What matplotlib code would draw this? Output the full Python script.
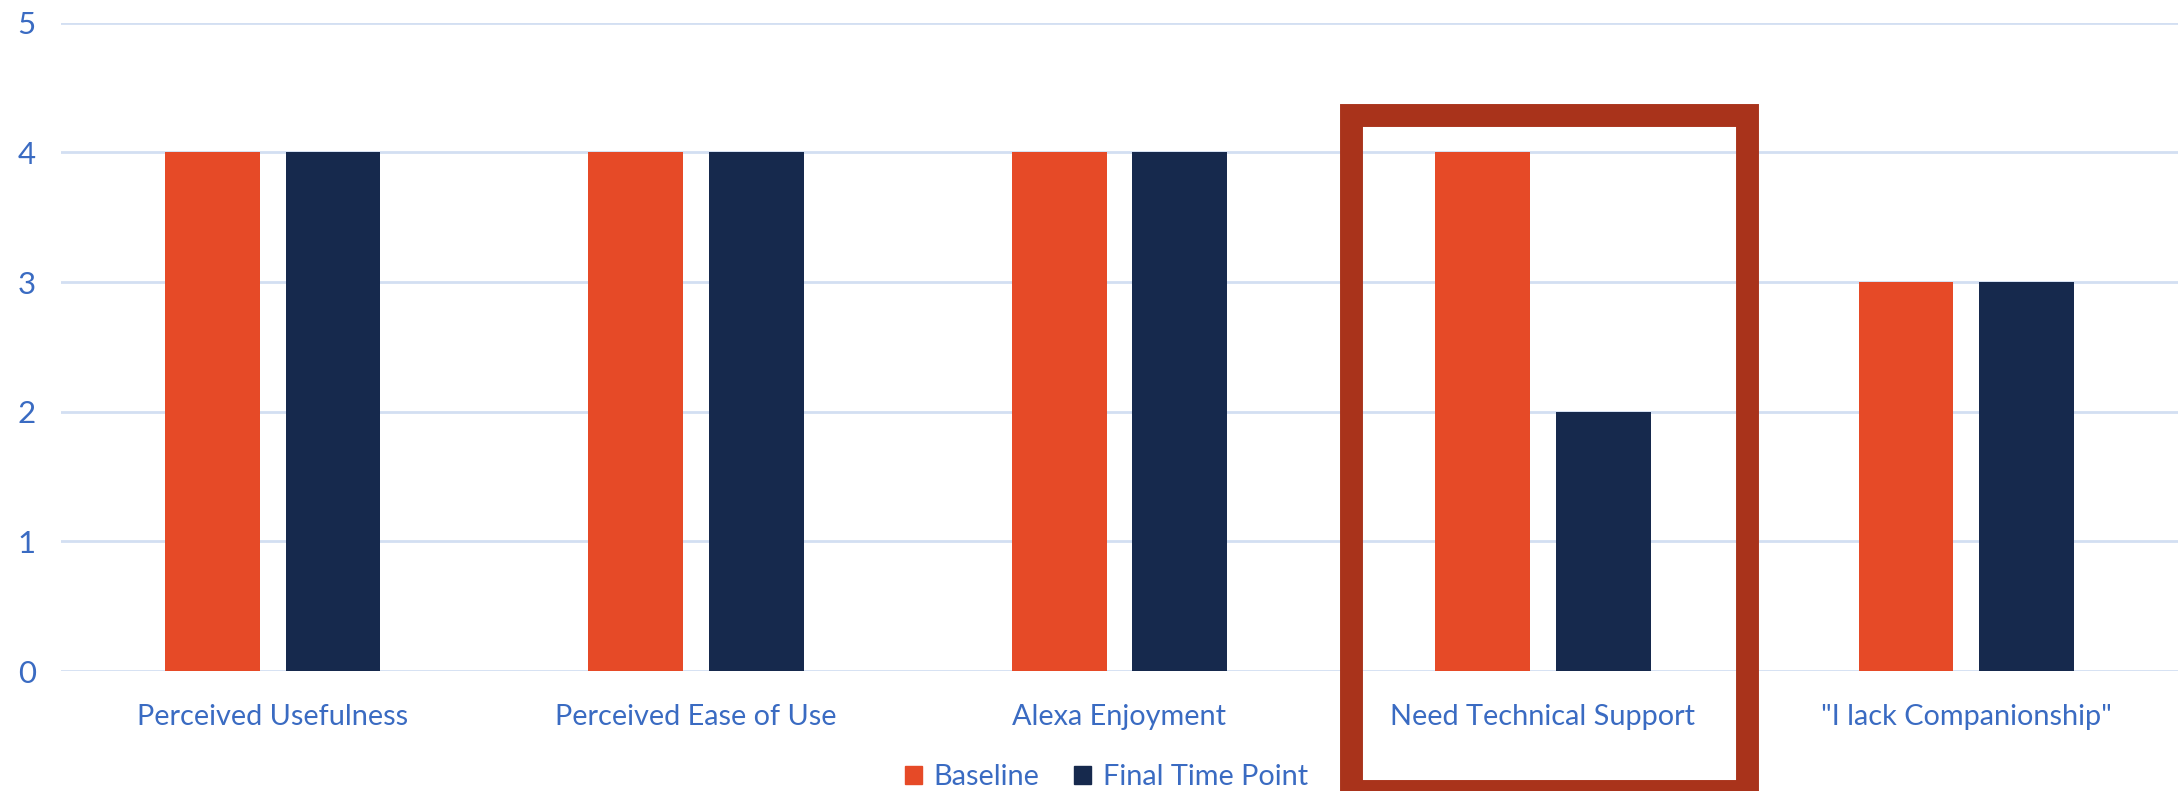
import matplotlib
matplotlib.use("Agg")
import matplotlib.pyplot as plt
import matplotlib.patches as patches
import numpy as np

categories = ["Perceived Usefulness", "Perceived Ease of Use", "Alexa Enjoyment",
              "Need Technical Support", "\"I lack Companionship\""]
baseline = [4, 4, 4, 4, 3]
final_time_point = [4, 4, 4, 2, 3]
y_ticks = [0, 1, 2, 3, 4, 5]

text_blue = "#3a6bc2"
orange = "#e64a27"
navy = "#16294d"
grid_blue = "#d3dff2"

plt.rcParams["font.family"] = ["Lato", "DejaVu Sans"]

fig = plt.figure(figsize=(21.78, 7.91), dpi=100)
ax = fig.add_axes([0.028, 0.1517, 0.972, 0.8196])

x = np.arange(len(categories))
w = 0.224
ax.bar(x - 0.1425, baseline, w, color=orange, zorder=2)
ax.bar(x + 0.1425, final_time_point, w, color=navy, zorder=2)
handles = [patches.Patch(color=orange), patches.Patch(color=navy)]

ax.set_xlim(-0.5, len(categories) - 0.5)
ax.set_ylim(0, 5)
ax.set_yticks(y_ticks)
ax.set_xticks(x)
ax.set_xticklabels(categories)
for s in ax.spines.values():
    s.set_visible(False)
ax.grid(axis="y", color=grid_blue, linewidth=2)
ax.set_axisbelow(True)
ax.tick_params(axis="both", length=0, labelcolor=text_blue)
ax.tick_params(axis="x", labelsize=20.8, pad=24)
ax.tick_params(axis="y", labelsize=22.5, pad=18)

fig.legend(handles, ["Baseline", "Final Time Point"], loc="center",
           bbox_to_anchor=(0.508, 0.0177), ncol=2, frameon=False,
           fontsize=20.8, labelcolor=text_blue, handlelength=0.6, handleheight=0.6,
           handletextpad=0.4, columnspacing=1.2, borderpad=0)

# highlight box around "Need Technical Support"
box = patches.Rectangle((0.6205, -0.0006), 0.8021 - 0.6205, 0.8546 + 0.0006,
                        transform=fig.transFigure, fill=False,
                        edgecolor="#a9331b", linewidth=16.5, joinstyle="miter",
                        clip_on=False, zorder=5)
fig.patches.append(box)

fig.savefig("out.png", dpi=100)
